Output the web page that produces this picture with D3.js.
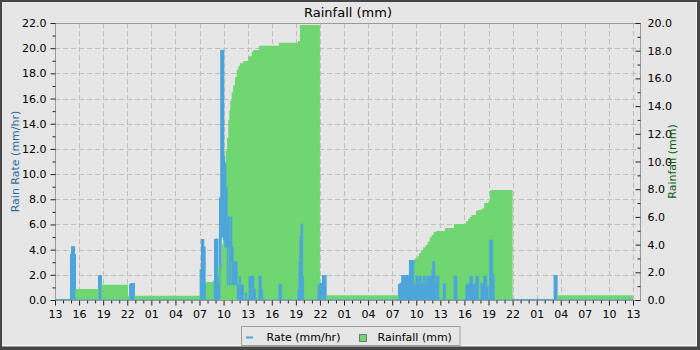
<!DOCTYPE html>
<html><head><meta charset="utf-8">
<script src="https://cdn.jsdelivr.net/npm/d3@7/dist/d3.min.js"></script>
<style>body{margin:0;background:#fff}svg{display:block}text{font-family:"DejaVu Sans",sans-serif}</style>
</head><body><svg id="c" width="700" height="350"></svg>
<script>
// ---- data (hours since 13:00 day 1) ----
const xTickLabels = ["13","16","19","22","01","04","07","10","13","16","19","22","01","04","07","10","13","16","19","22","01","04","07","10","13"];
const leftTicks = [0,2,4,6,8,10,12,14,16,18,20,22];
const rightTicks = [0,2,4,6,8,10,12,14,16,18,20];

// cumulative rainfall (mm), step values starting at each hour
const rainHours  = [0, 2.49, 5.60, 9.09, 18.18, 19.93, 20.76, 20.80, 20.92, 21.05, 21.17, 21.26, 21.42, 21.58, 21.71, 21.83, 22.0, 22.2, 22.42, 22.63, 22.83, 23.04, 23.45, 24.07, 24.5, 24.66, 25.4, 27.9, 30.26, 30.51, 33.0,
  42.84, 44.62, 44.83, 45.17, 45.33, 45.58, 45.86, 46.16, 46.41, 46.66, 46.91, 47.16, 47.53, 48.57, 49.69, 51.18, 51.47, 51.68, 51.89, 52.43, 52.71, 53.14, 53.46, 53.96, 54.17, 54.38, 57.0, 62.48, 71.98];
const rainValues = [0, 0.8, 1.1, 0.3, 1.3, 2.5, 2.5, 4.0, 6.0, 8.0, 9.5, 10.8, 11.7, 13.0, 13.7, 14.4, 15.0, 15.5, 16.1, 16.6, 16.9, 17.1, 17.26, 17.6, 17.9, 18.05, 18.36, 18.58, 18.7, 19.86, 0.35,
  1.1, 2.65, 3.0, 3.18, 3.37, 3.6, 3.8, 3.97, 4.2, 4.53, 4.7, 4.93, 4.98, 5.2, 5.49, 5.68, 5.85, 6.0, 6.14, 6.45, 6.5, 6.6, 7.0, 7.1, 7.9, 7.94, 0, 0.35, 0.35];

// rain rate (mm/hr): per interval, highest and lowest value swept by the trace
const rateHours  = [0, 1.99, 2.12, 2.37, 2.49, 5.48, 5.60, 5.73, 9.34, 9.53, 9.84,
  18.14, 18.31, 18.47, 18.64, 18.74, 19.84, 19.93, 20.09, 20.24, 20.34, 20.55, 20.71, 20.96, 21.05, 21.13, 21.30, 21.46, 21.55, 21.71, 21.88, 22.04, 22.20, 22.70, 22.95, 23.12, 23.47, 23.70, 23.87, 24.16, 24.50, 24.70, 24.78, 24.99, 25.40, 25.69, 25.87, 27.90, 28.23, 30.26, 30.39, 30.51, 30.64, 30.85, 30.97, 32.75, 32.91, 33.21, 33.37, 33.71,
  42.84, 43.05, 43.25, 44.00, 44.21, 44.71, 44.96, 45.24, 45.37, 45.62, 45.87, 46.11, 46.29, 46.54, 46.61, 46.95, 47.04, 47.32, 47.45, 47.82, 48.36, 48.65, 49.69, 50.06, 51.18, 51.34, 51.68, 52.02, 52.22, 52.43, 52.76, 53.05, 53.42, 53.76, 53.96, 54.13, 54.51, 54.71,
  62.23, 62.48, 72.0];
const rateHigh = [0, 3.57, 4.19, 3.57, 0, 1.85, 1.9, 0, 1.19, 1.27, 0,
  2.38, 4.77, 4.16, 1.33, 0, 1.45, 4.77, 4.8, 1.9, 1.14, 8.08, 19.8, 11.38, 8.2, 10.86, 9.0, 5.96, 6.6, 4.77, 6.6, 4.23, 3.04, 1.19, 1.85, 1.19, 0, 0.55, 0, 1.85, 1.9, 1.85, 0.85, 0, 1.9, 0.85, 0, 1.27, 0, 0.85, 3.04, 5.08, 6.04, 1.9, 0, 1.19, 1.27, 0, 1.9, 0,
  1.19, 1.3, 1.9, 1.19, 3.1, 1.19, 1.9, 1.19, 1.9, 1.3, 1.9, 1.11, 1.9, 1.3, 1.9, 2.38, 3.04, 1.3, 1.9, 0, 1.3, 0, 1.9, 0, 1.19, 1.3, 1.9, 1.19, 1.3, 1.9, 0, 1.3, 1.9, 1.06, 0, 4.77, 2.04, 0,
  1.9, 0, 0];
const rateLow = [0, 0, 0, 0, 0, 0, 0, 0, 0, 0, 0,
  0, 0, 0, 0, 0, 0, 0, 0, 0, 0, 2.6, 5.0, 4.8, 4.8, 4.2, 4.2, 1.2, 4.2, 1.2, 3.0, 1.2, 1.2, 0, 0, 0, 0, 0, 0, 0, 0, 0, 0, 0, 0, 0, 0, 0, 0, 0, 0, 0, 0, 0, 0, 0, 0, 0, 0, 0,
  0, 0, 0, 0, 0, 0, 0, 0, 0, 0, 0, 0, 0, 0, 0, 0, 0, 0, 0, 0, 0, 0, 0, 0, 0, 0, 0, 0, 0, 0, 0, 0, 0, 0, 0, 0, 0, 0,
  0, 0, 0];

// ---- layout ----
const W = 700, H = 350;
const L = 55, R = 640, T = 23, B = 300;
const svg = d3.select("#c");
const x = d3.scaleLinear().domain([0, 72.87]).range([L, R]);
const yL = d3.scaleLinear().domain([0, 22]).range([B, T]);
const yR = d3.scaleLinear().domain([0, 20]).range([B, T]);

// frame
svg.append("rect").attr("width", W).attr("height", H).attr("fill", "#464646");
svg.append("rect").attr("x", 2).attr("y", 2).attr("width", 695).attr("height", 344.5).attr("fill", "#e6e6e6");
svg.append("line").attr("x1", 696.5).attr("x2", 696.5).attr("y1", 2).attr("y2", 346).attr("stroke", "#fafafa");
svg.append("line").attr("x1", 2).attr("x2", 697).attr("y1", 345.5).attr("y2", 345.5).attr("stroke", "#fafafa");

// grid
const grid = svg.append("g").attr("stroke", "#bdbdbd").attr("stroke-dasharray", "5,3").attr("stroke-width", 1);
d3.range(3, 73, 3).forEach(h => {
  grid.append("line").attr("x1", Math.round(x(h)) + 0.5).attr("x2", Math.round(x(h)) + 0.5).attr("y1", T).attr("y2", B);
});
leftTicks.slice(1, -1).forEach(v => {
  grid.append("line").attr("x1", L).attr("x2", R).attr("y1", Math.round(yL(v)) + 0.5).attr("y2", Math.round(yL(v)) + 0.5);
});

const rate = rateHours.map((h, i) => [h, rateHigh[i], rateLow[i]]);
const rain = rainHours.map((h, i) => [h, rainValues[i]]);

// rate baseline trace (under the rainfall so the zero line is hidden by green)
svg.append("path").datum(rate)
  .attr("d", d3.line().curve(d3.curveStepAfter).x(d => x(d[0])).y(d => yL(d[1])))
  .attr("fill", "none").attr("stroke", "#4da6da").attr("stroke-width", 2);

// rainfall area
svg.append("path").datum(rain)
  .attr("d", d3.area().curve(d3.curveStepAfter).x(d => x(d[0])).y0(B).y1(d => yR(d[1])))
  .attr("fill", "#70d672");

// rate trace drawn over the rainfall
svg.append("path").datum(rate)
  .attr("d", d3.area().curve(d3.curveStepAfter).x(d => x(d[0])).y0(d => yL(d[2])).y1(d => yL(d[1])))
  .attr("fill", "#4da6da").attr("stroke", "#4da6da").attr("stroke-width", 0.8);

// plot box
svg.append("rect").attr("x", L + 0.5).attr("y", T + 0.5).attr("width", R - L).attr("height", B - T)
  .attr("fill", "none").attr("stroke", "#9a9a9a");

function styleAxis(g) {
  g.select(".domain").remove();
  g.selectAll("line").attr("stroke", "#222");
  g.selectAll("text").attr("font-size", 11).attr("fill", "#000").attr("font-family", "DejaVu Sans, sans-serif");
}

// left axis
svg.append("g").attr("transform", `translate(${L + 0.5},0)`)
  .call(d3.axisLeft(yL).tickValues(leftTicks).tickFormat(d3.format(".1f")).tickSize(5).tickPadding(4)).call(styleAxis);
svg.append("g").attr("transform", `translate(${L + 0.5},0)`)
  .call(d3.axisLeft(yL).tickValues(d3.range(1, 22, 2)).tickFormat("").tickSize(3)).call(styleAxis);

// right axis (ticks inward)
svg.append("g").attr("transform", `translate(${R + 0.5},0)`)
  .call(d3.axisRight(yR).tickValues(rightTicks).tickFormat(d3.format(".1f")).tickSize(-5).tickPadding(7)).call(styleAxis);
svg.append("g").attr("transform", `translate(${R + 0.5},0)`)
  .call(d3.axisRight(yR).tickValues(d3.range(1, 20, 2)).tickFormat("").tickSize(-3)).call(styleAxis);

// bottom axis
const majorH = xTickLabels.map((d, i) => i * 3);
svg.append("g").attr("transform", `translate(0,${B + 0.5})`)
  .call(d3.axisBottom(x).tickValues(majorH).tickFormat((d, i) => xTickLabels[i]).tickSize(5).tickPadding(5)).call(styleAxis);
svg.append("g").attr("transform", `translate(0,${B + 0.5})`)
  .call(d3.axisBottom(x).tickValues(d3.range(0, 73, 1).filter(h => h % 3 !== 0)).tickFormat("").tickSize(3)).call(styleAxis);

// title and axis titles
svg.append("text").attr("x", 348).attr("y", 16.5).attr("text-anchor", "middle").attr("font-size", 13).attr("fill", "#000").text("Rainfall (mm)");
svg.append("text").attr("transform", `translate(18.5,161.5) rotate(-90)`).attr("text-anchor", "middle")
  .attr("font-size", 11).attr("fill", "#2a6e9e").text("Rain Rate (mm/hr)");
svg.append("text").attr("transform", `translate(675.5,161.5) rotate(-90)`).attr("text-anchor", "middle")
  .attr("font-size", 11).attr("fill", "#0d5e0d").text("Rainfall (mm)");

// legend
const lg = svg.append("g");
lg.append("rect").attr("x", 241.5).attr("y", 326.5).attr("width", 218.5).attr("height", 19).attr("fill", "#e6e6e6").attr("stroke", "#a0a0a0");
lg.append("line").attr("x1", 246).attr("x2", 253).attr("y1", 337.5).attr("y2", 337.5).attr("stroke", "#4da6da").attr("stroke-width", 2);
lg.append("text").attr("x", 266.5).attr("y", 341).attr("font-size", 11).attr("fill", "#000").text("Rate (mm/hr)");
lg.append("rect").attr("x", 359.5).attr("y", 334.5).attr("width", 7).attr("height", 7).attr("fill", "#70d672").attr("stroke", "#777");
lg.append("text").attr("x", 377.5).attr("y", 341).attr("font-size", 11).attr("fill", "#000").text("Rainfall (mm)");
</script></body></html>
